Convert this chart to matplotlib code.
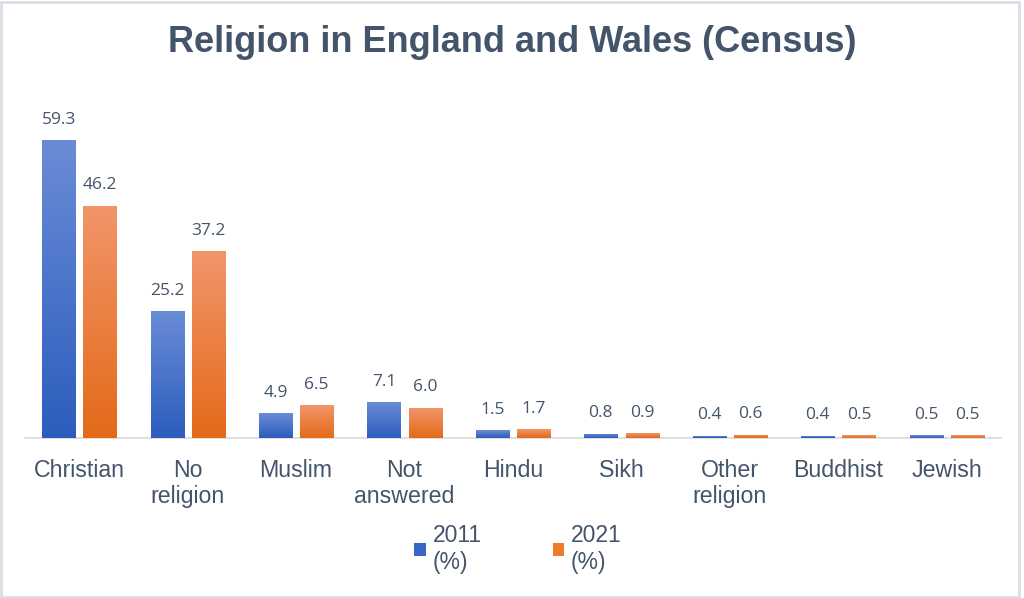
import numpy as np
import matplotlib
matplotlib.use("Agg")
import matplotlib.pyplot as plt
from matplotlib.colors import LinearSegmentedColormap
from matplotlib.patches import Rectangle, Patch

# données du recensement (%)
categories = ["Christian", "No\nreligion", "Muslim", "Not\nanswered", "Hindu",
              "Sikh", "Other\nreligion", "Buddhist", "Jewish"]
pct_2011 = [59.3, 25.2, 4.9, 7.1, 1.5, 0.8, 0.4, 0.4, 0.5]
pct_2021 = [46.2, 37.2, 6.5, 6.0, 1.7, 0.9, 0.6, 0.5, 0.5]
series_labels = ["2011\n(%)", "2021\n(%)"]

text_col = "#44546a"
blue_top, blue_bot = "#6a8cd6", "#2c5dbd"
orange_top, orange_bot = "#f2956a", "#e36a18"

plt.rcParams["font.family"] = ["Liberation Sans", "DejaVu Sans"]

fig = plt.figure(figsize=(10.24, 5.98), dpi=100)
fig.patch.set_facecolor("white")
# cadre gris autour de la figure
fig.patches.append(Rectangle((0.001, 0.002), 0.994, 0.995, transform=fig.transFigure,
                             fill=False, edgecolor="#d9dee5", linewidth=2))

ax = fig.add_axes([25 / 1024, 1 - 438 / 598, 976 / 1024, 0.55])
x = np.arange(len(categories))
w = 0.305
off = 0.19
b1 = ax.bar(x - off, pct_2011, w, color=blue_bot, edgecolor="white", linewidth=0.6, zorder=2)
b2 = ax.bar(x + off, pct_2021, w, color=orange_bot, edgecolor="white", linewidth=0.6, zorder=2)

ax.set_xlim(-0.5, len(categories) - 0.5)
ax.set_ylim(0, 59.3 * (0.55 * 598) / 298)

# dégradé vertical dans chaque barre
grad = np.linspace(0, 1, 256).reshape(-1, 1)
for bars, top, bot in [(b1, blue_top, blue_bot), (b2, orange_top, orange_bot)]:
    cmap = LinearSegmentedColormap.from_list("g", [bot, top])
    for p in bars:
        x0, h, bw = p.get_x(), p.get_height(), p.get_width()
        im = ax.imshow(grad, extent=(x0, x0 + bw, 0, h), origin="lower",
                       cmap=cmap, aspect="auto", zorder=3)
        im.set_clip_path(p)

for bars, vals in [(b1, pct_2011), (b2, pct_2021)]:
    for p, v in zip(bars, vals):
        ax.annotate(f"{v:.1f}", (p.get_x() + p.get_width() / 2, v),
                    xytext=(0, 9), textcoords="offset points", ha="center", va="bottom",
                    fontsize=12.5, color=text_col, family=["Open Sans", "DejaVu Sans"])

ax.set_xticks(x)
ax.set_xticklabels(categories, fontsize=16.7, color=text_col, linespacing=1.15)
ax.tick_params(axis="x", length=0, pad=15)
ax.set_yticks([])
for s in ["top", "right", "left"]:
    ax.spines[s].set_visible(False)
ax.spines["bottom"].set_color("#d9d9d9")
ax.spines["bottom"].set_linewidth(1.2)

fig.text(0.5, 1 - 42 / 598, "Religion in England and Wales (Census)", ha="center", va="center",
         fontsize=26, fontweight="bold", color=text_col)

handles = [Patch(facecolor="#3a66c6"), Patch(facecolor="#ef7b2c")]
leg = fig.legend(handles, series_labels, loc="center", bbox_to_anchor=(518 / 1024, 1 - 549 / 598),
                 ncol=2, frameon=False, fontsize=16.5, handlelength=0.5, handleheight=0.5,
                 handletextpad=0.3, columnspacing=3.1, labelcolor=text_col)

fig.savefig("out.png", dpi=100, facecolor="white")
